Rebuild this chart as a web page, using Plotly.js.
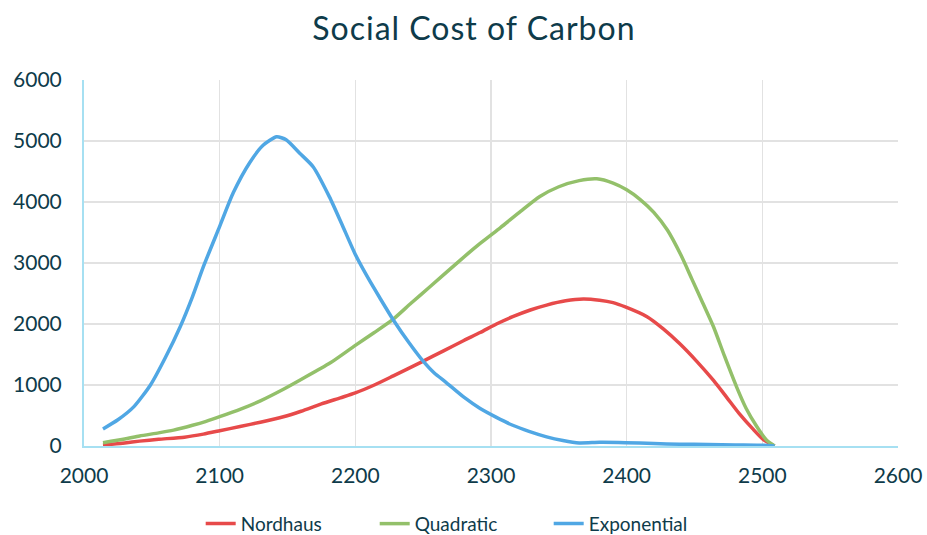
<!DOCTYPE html>
<html>
<head>
<meta charset="utf-8">
<script src="https://cdn.plot.ly/plotly-3.0.1.min.js"></script>
<style>html,body{margin:0;padding:0;background:#fff;}#chart{width:927px;height:535px;}.gtitle{letter-spacing:1px;}</style>
</head>
<body>
<div id="chart"></div>
<script>
const chartTitle = "Social Cost of Carbon";
const seriesNames = ["Nordhaus", "Quadratic", "Exponential"];

const nordhausYears = [2014,2030,2041,2055,2074,2088,2100,2115,2130,2147,2160,2175,2189,2200,2214,2228,2249,2265,2280,2292,2304,2316,2329,2341,2355,2368,2380,2390,2399,2415,2427,2439,2452,2464,2474,2483,2493,2501,2509];
const nordhausValues = [15,50,80,110,145,195,250,320,390,480,570,690,790,870,1000,1150,1380,1560,1730,1860,2000,2120,2230,2310,2380,2410,2390,2350,2280,2120,1920,1680,1380,1075,790,530,280,100,0];

const quadraticYears = [2014,2030,2041,2055,2066,2080,2090,2100,2115,2130,2147,2160,2181,2200,2214,2228,2241,2255,2277,2292,2307,2322,2336,2350,2365,2378,2390,2400,2410,2420,2430,2440,2448,2456,2464,2472,2481,2488,2496,2503,2509];
const quadraticValues = [55,115,165,215,260,340,405,480,600,740,930,1090,1355,1650,1860,2080,2340,2610,3040,3320,3580,3850,4090,4250,4350,4380,4310,4200,4040,3830,3540,3130,2740,2350,1955,1480,970,620,316,100,0];

const exponentialYears = [2014,2025,2037,2049,2060,2071,2080,2088,2100,2110,2122,2132,2142,2149,2159,2169,2181,2190,2200,2210,2218,2228,2240,2250,2258,2267,2280,2292,2304,2316,2328,2341,2353,2365,2380,2399,2420,2439,2460,2480,2501,2509];
const exponentialValues = [280,430,650,1000,1450,1960,2450,2940,3600,4150,4640,4930,5070,5020,4800,4575,4080,3640,3140,2730,2430,2066,1680,1390,1200,1040,800,615,470,340,240,150,90,50,60,55,40,30,25,18,12,0];

const xTicks = [2000,2100,2200,2300,2400,2500,2600];
const yTicks = [0,1000,2000,3000,4000,5000,6000];

const colors = ["#e74a4a", "#93c06a", "#50a7e4"];
const textColor = "#0e3b4a";
const fontFamily = "Lato, 'Noto Sans', sans-serif";

const xs = [nordhausYears, quadraticYears, exponentialYears];
const ys = [nordhausValues, quadraticValues, exponentialValues];

const traces = seriesNames.map((n, i) => ({
  type: "scatter",
  mode: "lines",
  name: n,
  x: xs[i],
  y: ys[i],
  line: {color: colors[i], width: 3.5, shape: "spline", smoothing: 0.6},
  hoverinfo: "x+y+name"
}));

const layout = {
  width: 927,
  height: 535,
  margin: {l: 84, r: 29, t: 80, b: 89},
  paper_bgcolor: "#ffffff",
  plot_bgcolor: "#ffffff",
  font: {family: fontFamily, color: textColor, size: 21},
  title: {
    text: chartTitle,
    font: {family: fontFamily, size: 32, color: textColor},
    x: 0.479, xanchor: "center",
    xref: "paper",
    y: 0.947, yanchor: "middle"
  },
  xaxis: {
    range: [2000, 2600],
    tickvals: xTicks,
    ticktext: xTicks.map(String),
    showgrid: true,
    gridcolor: "#e2e2e2",
    gridwidth: 1.5,
    showline: true,
    linecolor: "#a6e0f2",
    linewidth: 2,
    zeroline: false,
    ticks: "",
    automargin: false,
    ticklabelstandoff: 10,
    tickfont: {size: 21, color: textColor}
  },
  yaxis: {
    range: [0, 6000],
    tickvals: yTicks,
    ticktext: yTicks.map(String),
    showgrid: true,
    gridcolor: "#e2e2e2",
    gridwidth: 1.5,
    showline: true,
    linecolor: "#a6e0f2",
    linewidth: 2,
    zeroline: false,
    ticks: "",
    automargin: false,
    ticklabelstandoff: 16,
    tickfont: {size: 21, color: textColor}
  },
  showlegend: true,
  legend: {
    orientation: "h",
    xref: "paper",
    x: 0.464, xanchor: "center",
    yref: "container",
    y: 0.021, yanchor: "middle",
    font: {size: 19, color: textColor},
    entrywidth: 129,
    entrywidthmode: "pixels",
    tracegroupgap: 0
  }
};

Plotly.newPlot("chart", traces, layout, {displayModeBar: false, staticPlot: true});
</script>
</body>
</html>
